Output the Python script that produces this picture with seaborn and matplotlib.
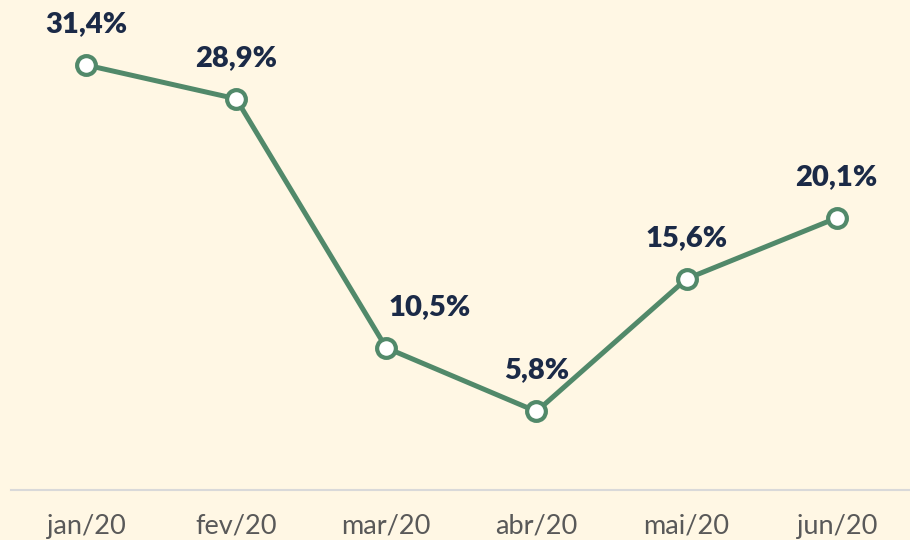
import pandas as pd
import matplotlib
matplotlib.use("Agg")
import matplotlib.pyplot as plt
import seaborn as sns

months = ["jan/20", "fev/20", "mar/20", "abr/20", "mai/20", "jun/20"]
values = [31.4, 28.9, 10.5, 5.8, 15.6, 20.1]
labels = ["31,4%", "28,9%", "10,5%", "5,8%", "15,6%", "20,1%"]

bg = "#FFF7E4"
green = "#51896A"
navy = "#1B2A47"


def main():
    sns.set_theme(style="white")
    plt.rcParams["font.family"] = ["Lato", "DejaVu Sans"]

    df = pd.DataFrame({"month": months, "value": values})

    fig = plt.figure(figsize=(9.1, 5.4), dpi=100, facecolor=bg)
    ax = fig.add_axes([0.012, 0.0926, 0.99, 0.9074])
    ax.set_facecolor(bg)

    sns.lineplot(data=df, x="month", y="value", sort=False, ax=ax,
                 color=green, linewidth=3.6, marker="o", markersize=13.5,
                 markerfacecolor="white", markeredgecolor=green,
                 markeredgewidth=3)

    ax.set_xlim(-0.5, len(months) - 0.5)
    ax.set_ylim(0, 36.2)

    # value labels above the points (mar/20 sits to the right)
    for i, (v, lab) in enumerate(zip(values, labels)):
        dx, dy = (43, 41) if i == 2 else (0, 41)
        ax.annotate(lab, (i, v), xytext=(dx, dy), textcoords="offset pixels",
                    ha="center", va="center", fontsize=21, fontweight="heavy",
                    color=navy)

    for side in ["top", "right", "left"]:
        ax.spines[side].set_visible(False)
    ax.spines["bottom"].set_color("#D9D9D9")
    ax.spines["bottom"].set_linewidth(1.5)
    ax.set_yticks([])
    ax.set_xlabel("")
    ax.set_ylabel("")
    ax.tick_params(axis="x", length=0, pad=17, labelsize=19.5, labelcolor="#595959")

    fig.savefig("out.png", dpi=100, facecolor=bg)


if __name__ == "__main__":
    main()
